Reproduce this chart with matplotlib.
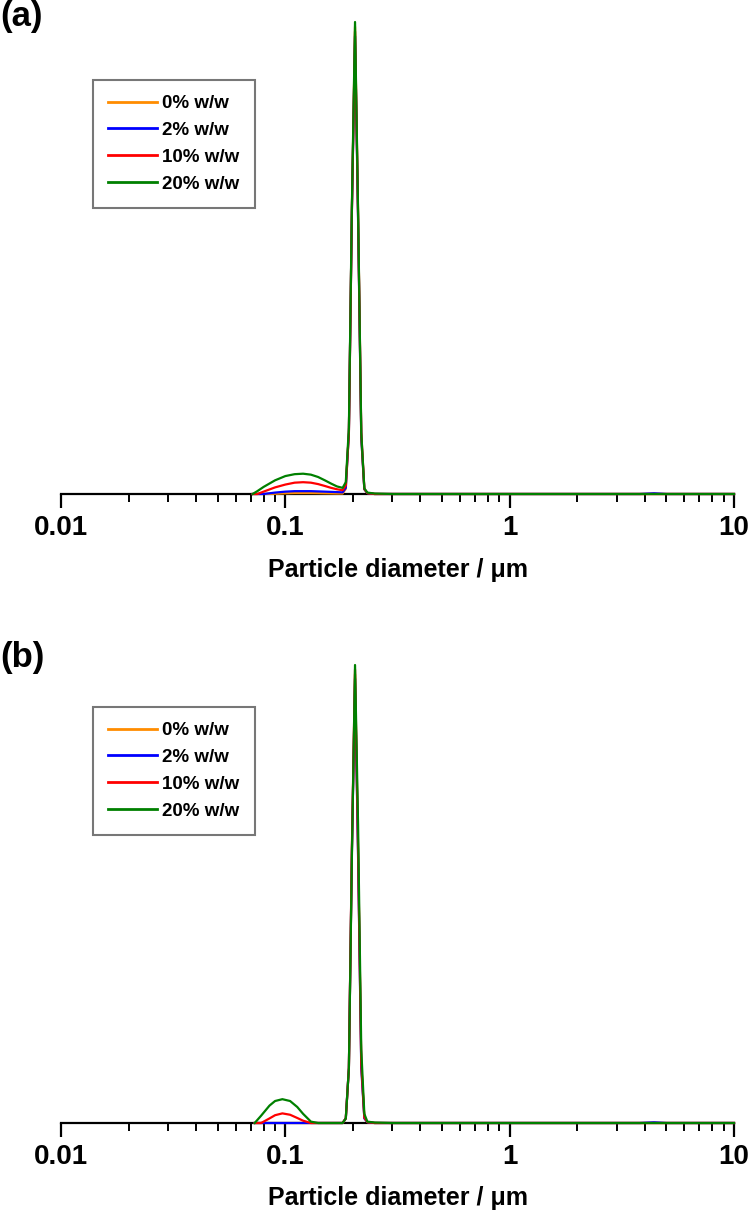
import matplotlib.pyplot as plt
from matplotlib.ticker import LogLocator, FixedLocator, NullFormatter

# particle size distributions (intensity, peak ~ 100)
labels = ["0% w/w", "2% w/w", "10% w/w", "20% w/w"]
colors = ["#FF8C00", "#0000FF", "#FF0000", "#008000"]

# panel (a)
a_d = [0.0715, 0.075, 0.08, 0.09, 0.10, 0.11, 0.12, 0.13, 0.14, 0.15, 0.16, 0.17,
       0.18, 0.186, 0.192, 0.198, 0.2045, 0.211, 0.218, 0.225, 0.232, 0.25, 0.3,
       1.0, 3.8, 4.4, 5.0, 10.0]
a_0 = [0, 0, 0, 0.05, 0.15, 0.2, 0.2, 0.2, 0.18, 0.15, 0.13, 0.1,
       0.1, 1.1, 13, 60, 99, 59, 12, 1.0, 0.2, 0, 0, 0, 0, 0, 0, 0]
a_2 = [0, 0, 0, 0.3, 0.5, 0.6, 0.6, 0.6, 0.55, 0.5, 0.45, 0.4,
       0.35, 1.3, 13, 60, 97, 58, 12, 1.0, 0.2, 0, 0, 0, 0, 0.15, 0, 0]
a_10 = [0, 0, 0.5, 1.4, 2.0, 2.4, 2.5, 2.4, 2.1, 1.7, 1.3, 1.0,
        0.8, 1.8, 13, 60, 98, 59, 13, 1.1, 0.2, 0, 0, 0, 0, 0, 0, 0]
a_20 = [0, 0.6, 1.5, 2.9, 3.8, 4.2, 4.3, 4.1, 3.6, 2.9, 2.2, 1.6,
        1.3, 2.5, 14, 61, 100, 60, 13, 1.2, 0.3, 0.1, 0, 0, 0, 0, 0, 0]

# panel (b)
b_d = [0.073, 0.078, 0.085, 0.09, 0.097, 0.105, 0.113, 0.12, 0.13, 0.14, 0.18,
       0.186, 0.192, 0.198, 0.2045, 0.211, 0.218, 0.225, 0.232, 0.25, 0.3,
       1.0, 3.8, 4.4, 5.0, 10.0]
b_0 = [0, 0, 0, 0, 0, 0, 0, 0, 0, 0, 0,
       1.0, 12, 59, 98, 59, 13, 1.1, 0.2, 0, 0, 0, 0, 0, 0, 0]
b_2 = [0, 0, 0, 0, 0, 0, 0, 0, 0, 0, 0,
       1.0, 12, 59, 97, 58, 12, 1.0, 0.2, 0, 0, 0, 0, 0.15, 0, 0]
b_10 = [0, 0, 1.0, 1.7, 2.1, 1.8, 1.1, 0.5, 0, 0, 0,
        1.0, 12, 60, 99, 60, 13, 1.2, 0.2, 0, 0, 0, 0, 0, 0, 0]
b_20 = [0, 1.6, 3.8, 4.8, 5.2, 4.8, 3.5, 2.0, 0.3, 0, 0,
        1.0, 12, 58, 100, 65, 16, 2.0, 0.3, 0.1, 0, 0, 0, 0, 0, 0]

xticks = [0.01, 0.1, 1, 10]
xticklabels = ["0.01", "0.1", "1", "10"]

font = ["Liberation Sans", "DejaVu Sans"]
W, H = 750, 1218
fig = plt.figure(figsize=(W / 100, H / 100), dpi=100)


def panel(rect, d, series, tag, tag_y, leg_top):
    ax = fig.add_axes(rect)
    for y, c, lab in zip(series, colors, labels):
        ax.plot(d, y, color=c, lw=1.6, label=lab, zorder=3, clip_on=False)
    ax.set_xscale("log")
    ax.set_xlim(0.01, 10)
    ax.set_ylim(0, 100)
    for s in ["left", "right", "top"]:
        ax.spines[s].set_visible(False)
    ax.spines["bottom"].set_linewidth(1.6)
    ax.set_yticks([])
    ax.xaxis.set_major_locator(FixedLocator(xticks))
    ax.set_xticklabels(xticklabels, fontsize=20, fontweight="bold", family=font)
    ax.xaxis.set_minor_locator(LogLocator(base=10, subs=range(2, 10)))
    ax.xaxis.set_minor_formatter(NullFormatter())
    ax.tick_params(axis="x", which="major", direction="out", length=10, width=1.6, pad=5)
    ax.tick_params(axis="x", which="minor", direction="out", length=6, width=1.4)
    ax.set_xlabel("Particle diameter / \u03bcm", fontsize=18, fontweight="bold",
                  family=font, labelpad=12)
    fig.text(0, 1 - tag_y / H, tag, fontsize=25, fontweight="bold",
             family=font, ha="left", va="top")
    leg = ax.legend(loc="upper left", bbox_to_anchor=(93 / W, 1 - leg_top / H),
                    bbox_transform=fig.transFigure, frameon=True, fancybox=False,
                    prop={"family": font, "weight": "bold", "size": 13.5},
                    handlelength=2.6, handletextpad=0.3, labelspacing=0.52,
                    borderpad=0.8, borderaxespad=0)
    leg.get_frame().set_edgecolor("#555555")
    leg.get_frame().set_linewidth(1.5)
    for line in leg.get_lines():
        line.set_linewidth(2)
    return ax


panel([61 / W, 1 - 494 / H, 673 / W, 472 / H], a_d, [a_0, a_2, a_10, a_20], "(a)", 0, 80)
panel([61 / W, 1 - 1123 / H, 673 / W, 458 / H], b_d, [b_0, b_2, b_10, b_20], "(b)", 641, 707)

fig.savefig("out.png", dpi=100)
